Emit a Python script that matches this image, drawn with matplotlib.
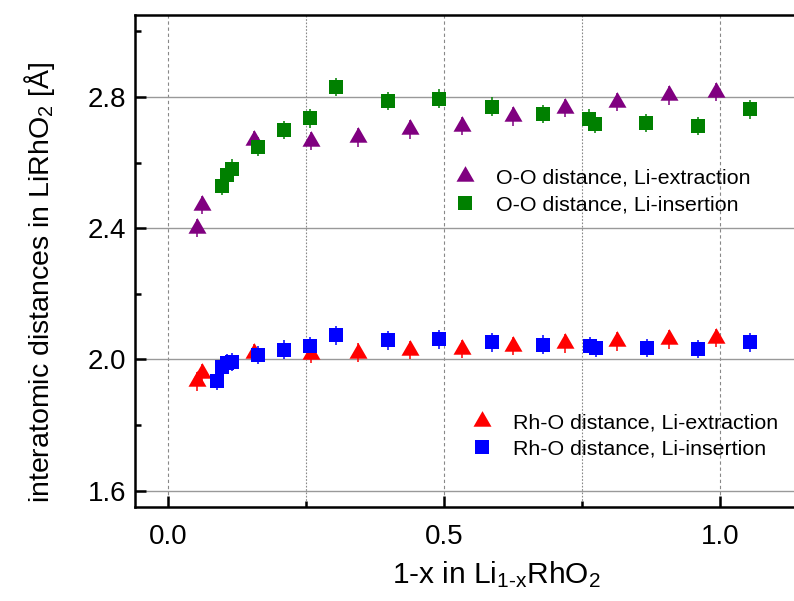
import matplotlib
matplotlib.use("Agg")
import matplotlib.pyplot as plt
from matplotlib.path import Path
from matplotlib.ticker import MultipleLocator, FormatStrFormatter

plt.rcParams['font.family'] = ['Liberation Sans', 'DejaVu Sans']
plt.rcParams['mathtext.fontset'] = 'custom'
plt.rcParams['mathtext.rm'] = 'Liberation Sans'
plt.rcParams['mathtext.it'] = 'Liberation Sans'
plt.rcParams['mathtext.default'] = 'regular'

# O-O distance, Li extraction
oo_ext_x = [0.053, 0.062, 0.156, 0.259, 0.344, 0.438, 0.532, 0.625, 0.719, 0.813, 0.907, 0.992]
oo_ext_y = [2.400, 2.471, 2.668, 2.665, 2.677, 2.701, 2.712, 2.741, 2.766, 2.785, 2.805, 2.816]
# O-O distance, Li insertion
oo_ins_x = [0.097, 0.107, 0.116, 0.163, 0.210, 0.257, 0.304, 0.398, 0.491, 0.586, 0.679,
            0.763, 0.773, 0.866, 0.961, 1.054]
oo_ins_y = [2.530, 2.562, 2.582, 2.649, 2.699, 2.735, 2.830, 2.787, 2.795, 2.771, 2.748,
            2.734, 2.718, 2.720, 2.711, 2.762]
# Rh-O distance, Li extraction
rho_ext_x = [0.052, 0.062, 0.156, 0.259, 0.344, 0.438, 0.532, 0.625, 0.719, 0.813, 0.908, 0.992]
rho_ext_y = [1.933, 1.959, 2.019, 2.016, 2.021, 2.028, 2.032, 2.041, 2.049, 2.055, 2.061, 2.065]
# Rh-O distance, Li insertion
rho_ins_x = [0.088, 0.097, 0.107, 0.116, 0.163, 0.210, 0.257, 0.304, 0.398, 0.491, 0.586,
             0.679, 0.764, 0.775, 0.867, 0.961, 1.054]
rho_ins_y = [1.934, 1.976, 1.988, 1.993, 2.013, 2.030, 2.041, 2.073, 2.058, 2.061, 2.052,
             2.045, 2.041, 2.035, 2.035, 2.032, 2.052]
yerr = 0.028

x_ticks = [0.0, 0.5, 1.0]
y_ticks = [1.6, 2.0, 2.4, 2.8]

# triangle whose centroid sits on the data point
tri = Path([(-1, -0.58), (1, -0.58), (0, 1.15), (-1, -0.58)],
           [Path.MOVETO, Path.LINETO, Path.LINETO, Path.CLOSEPOLY])

fig = plt.figure(figsize=(7.94, 6.01), dpi=100)
ax = fig.add_axes([135 / 794, 1 - 507 / 601, 723 / 794, 492 / 601])

series = [
    (oo_ext_x, oo_ext_y, '#800080', tri, 14.9, 'O-O distance, Li-extraction'),
    (oo_ins_x, oo_ins_y, '#008000', 's', 9.4, 'O-O distance, Li-insertion'),
    (rho_ext_x, rho_ext_y, '#ff0000', tri, 14.9, 'Rh-O distance, Li-extraction'),
    (rho_ins_x, rho_ins_y, '#0000ff', 's', 10.0, 'Rh-O distance, Li-insertion'),
]
handles = []
for xs, ys, c, m, ms, lab in series:
    ax.errorbar(xs, ys, yerr=yerr, fmt='none', ecolor=c, elinewidth=1.1, capsize=0, zorder=3)
    h, = ax.plot(xs, ys, linestyle='none', marker=m, markersize=ms, color=c,
                 markeredgewidth=0, label=lab, zorder=4)
    handles.append(h)

ax.set_xlim(-0.06, 1.25)
ax.set_ylim(1.55, 3.05)
ax.xaxis.set_major_locator(MultipleLocator(0.5))
ax.xaxis.set_minor_locator(MultipleLocator(0.25))
ax.yaxis.set_major_locator(MultipleLocator(0.4))
ax.yaxis.set_minor_locator(MultipleLocator(0.2))
ax.set_xticks(x_ticks)
ax.set_yticks(y_ticks)
ax.xaxis.set_major_formatter(FormatStrFormatter('%.1f'))
ax.yaxis.set_major_formatter(FormatStrFormatter('%.1f'))

ax.grid(True, which='major', axis='y', color='#999999', linewidth=1.0, linestyle='-', zorder=0)
ax.grid(True, which='major', axis='x', color='#888888', linewidth=0.8, linestyle=(0, (3, 2.5)), zorder=0)
ax.grid(True, which='minor', axis='x', color='#888888', linewidth=0.8, linestyle=(0, (1.5, 1.5)), zorder=0)
ax.set_axisbelow(True)

for side in ['left', 'bottom', 'top', 'right']:
    ax.spines[side].set_linewidth(1.8)
ax.tick_params(which='major', direction='in', length=8, width=1.8, labelsize=20,
               top=False, right=False)
ax.tick_params(which='minor', direction='in', length=4, width=1.8, top=False, right=False)
ax.tick_params(axis='y', which='major', pad=6.5)
ax.tick_params(axis='x', which='major', pad=12)

ax.set_xlabel('1-x in Li$_{1\\text{-}x}$RhO$_2$', fontsize=21.5, labelpad=7)
ax.set_ylabel('interatomic distances in LiRhO$_2$ [Å]', fontsize=20.5)
ax.yaxis.set_label_coords(-0.108, 0.457)

leg_kw = dict(frameon=False, fontsize=15.4, handlelength=1.0, handletextpad=0.98,
              labelspacing=0.35, borderpad=0, borderaxespad=0, loc='center left',
              bbox_transform=fig.transFigure)
leg1 = ax.legend(handles=handles[:2], bbox_to_anchor=(454 / 794, 1 - 191.7 / 601), **leg_kw)
ax.add_artist(leg1)
ax.legend(handles=handles[2:], bbox_to_anchor=(471 / 794, 1 - 436 / 601), **leg_kw)

fig.savefig('out.png', dpi=100)
